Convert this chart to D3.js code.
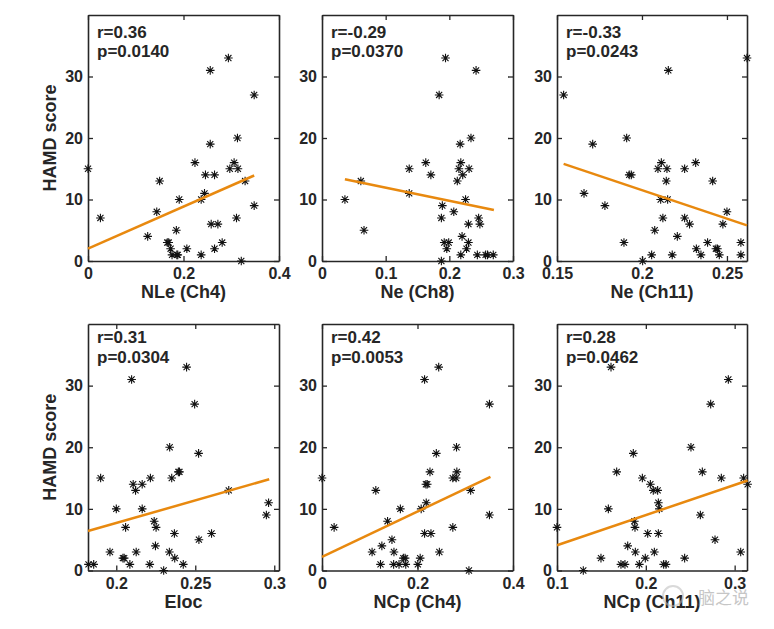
<!DOCTYPE html>
<html><head><meta charset="utf-8">
<script src="https://cdn.jsdelivr.net/npm/d3@7"></script>
<style>
html,body{margin:0;padding:0;background:#fff;}
svg{display:block;}
text{font-family:"Liberation Sans",Arial,sans-serif;font-weight:bold;fill:#262626;}
</style></head>
<body>
<svg id="chart" width="774" height="629"></svg>
<script>
// ---- data ----
const yTicks = [0, 10, 20, 30];
const yLabel = "HAMD score";
const xLabels = ["NLe (Ch4)", "Ne (Ch8)", "Ne (Ch11)", "Eloc", "NCp (Ch4)", "NCp (Ch11)"];
const rTexts = ["r=0.36", "r=-0.29", "r=-0.33", "r=0.31", "r=0.42", "r=0.28"];
const pTexts = ["p=0.0140", "p=0.0370", "p=0.0243", "p=0.0304", "p=0.0053", "p=0.0462"];
const xDomains = [[0, 0.4], [0, 0.3], [0.15, 0.2618], [0.1821, 0.303], [0, 0.4], [0.1, 0.3139]];
const xTickVals = [[0, 0.2, 0.4], [0, 0.1, 0.2, 0.3], [0.15, 0.2, 0.25], [0.2, 0.25, 0.3], [0, 0.2, 0.4], [0.1, 0.2, 0.3]];

const xNLeCh4 = [0.294,0.256,0.348,0.313,0.256,0.224,0.306,0.0,0.297,0.314,0.246,0.265,0.150,0.329,0.244,0.237,0.191,0.348,0.144,0.026,0.311,0.258,0.272,0.185,0.125,0.166,0.169,0.281,0.207,0.265,0.173,0.176,0.186,0.188,0.237,0.321];
const yNLeCh4 = [33,31,27,20,19,16,16,15,15,15,14,14,13,13,11,10,10,9,8,7,7,6,6,5,4,3,3,3,2,2,2,1,1,1,1,0];

const xNeCh8 = [0.194,0.242,0.184,0.234,0.217,0.163,0.218,0.137,0.215,0.231,0.171,0.221,0.061,0.2125,0.137,0.036,0.2255,0.189,0.207,0.1875,0.246,0.248,0.230,0.066,0.220,0.192,0.199,0.230,0.196,0.227,0.218,0.244,0.257,0.260,0.269,0.1875];
const yNeCh8 = [33,31,27,20,19,16,16,15,15,15,14,14,13,13,11,10,10,9,8,7,7,6,6,5,4,3,3,3,2,2,1,1,1,1,1,0];

const xNeCh11 = [0.2618,0.1539,0.2155,0.191,0.171,0.2114,0.2316,0.2094,0.2147,0.2251,0.1925,0.1937,0.2143,0.2416,0.1659,0.211,0.2151,0.1782,0.25,0.2123,0.2251,0.228,0.2476,0.2075,0.2208,0.1894,0.2386,0.2582,0.232,0.2435,0.2444,0.2057,0.2178,0.2347,0.2455,0.2582,0.2004];
const yNeCh11 = [33,27,31,20,19,16,16,15,15,15,14,14,13,13,11,10,10,9,8,7,7,6,6,5,4,3,3,3,2,2,2,1,1,1,1,1,0];

const xEloc = [0.2445,0.2097,0.2496,0.2338,0.2521,0.2393,0.2400,0.1901,0.2216,0.2351,0.2107,0.2164,0.2122,0.2712,0.2964,0.2,0.2164,0.295,0.224,0.2252,0.2059,0.2368,0.2603,0.2523,0.2248,0.196,0.2126,0.2336,0.2042,0.205,0.237,0.1824,0.1857,0.2086,0.2212,0.2424,0.23];
const yEloc = [33,31,27,20,19,16,16,15,15,15,14,14,13,13,11,10,10,9,8,7,7,6,6,5,4,3,3,3,2,2,2,1,1,1,1,1,0];

const xNCpCh4 = [0.2444,0.2148,0.3507,0.2817,0.2394,0.2261,0.2824,0,0.2739,0.281,0.2176,0.2204,0.1127,0.3113,0.2183,0.1641,0.2077,0.3507,0.1373,0.0254,0.274,0.2148,0.2282,0.1465,0.1254,0.1049,0.1507,0.2458,0.1704,0.174,0.2056,0.1225,0.15,0.1613,0.1754,0.2007,0.3077];
const yNCpCh4 = [33,31,27,20,19,16,16,15,15,15,14,14,13,13,11,10,10,9,8,7,7,6,6,5,4,3,3,3,2,2,2,1,1,1,1,1,0];

const xNCpCh11 = [0.1608,0.2929,0.273,0.2508,0.1859,0.1672,0.2636,0.1961,0.285,0.3101,0.2051,0.3146,0.2084,0.2133,0.2141,0.2152,0.1578,0.2614,0.1871,0.1878,0.1,0.2021,0.2141,0.2779,0.1796,0.1882,0.2096,0.3068,0.1495,0.1994,0.2437,0.172,0.1765,0.1927,0.2201,0.2227,0.1296];
const yNCpCh11 = [33,31,27,20,19,16,16,15,15,15,14,14,13,13,11,10,10,9,8,7,7,6,6,5,4,3,3,3,2,2,2,1,1,1,1,1,0];

// fitted line endpoints [x0,x1] / [y0,y1]
const fitX = [[0, 0.348], [0.036, 0.270], [0.1539, 0.2618], [0.1821, 0.2968], [0, 0.3528], [0.1, 0.3146]];
const fitY = [[2.0, 13.9], [13.3, 8.3], [15.8, 5.8], [6.4, 14.8], [2.2, 15.2], [4.1, 14.6]];

const seriesX = [xNLeCh4, xNeCh8, xNeCh11, xEloc, xNCpCh4, xNCpCh11];
const seriesY = [yNLeCh4, yNeCh8, yNeCh11, yEloc, yNCpCh4, yNCpCh11];

// ---- layout ----
const colL = [88, 322, 557];
const colR = [279, 513, 747];
const rowT = [15, 324];
const rowB = [261, 570.5];
const statOffset = [22.5, 19];
const ink = "#262626";
const fitColor = "#E8890F";

const svg = d3.select("#chart");

function fmt(v) { return d3.format("")(+v.toFixed(3)); }

function star(r) {
  const d = r * Math.SQRT1_2;
  return `M${-r},0L${r},0M0,${-r}L0,${r}M${-d},${-d}L${d},${d}M${-d},${d}L${d},${-d}`;
}

for (let i = 0; i < 6; i++) {
  const c = i % 3, rw = Math.floor(i / 3);
  const x = d3.scaleLinear().domain(xDomains[i]).range([colL[c], colR[c]]);
  const y = d3.scaleLinear().domain([0, 40]).range([rowB[rw], rowT[rw]]);
  const g = svg.append("g");

  const bottom = g.append("g").attr("transform", `translate(0,${rowB[rw]})`)
    .call(d3.axisBottom(x).tickValues(xTickVals[i]).tickSizeInner(-5).tickSizeOuter(0).tickPadding(4).tickFormat(fmt));
  const top = g.append("g").attr("transform", `translate(0,${rowT[rw]})`)
    .call(d3.axisTop(x).tickValues(xTickVals[i]).tickSizeInner(-5).tickSizeOuter(0).tickFormat(""));
  const left = g.append("g").attr("transform", `translate(${colL[c]},0)`)
    .call(d3.axisLeft(y).tickValues(yTicks).tickSizeInner(-5).tickSizeOuter(0).tickPadding(5));
  const right = g.append("g").attr("transform", `translate(${colR[c]},0)`)
    .call(d3.axisRight(y).tickValues(yTicks).tickSizeInner(-5).tickSizeOuter(0).tickFormat(""));
  [bottom, top, left, right].forEach(a => {
    a.select(".domain").attr("stroke", ink).attr("stroke-width", 1.6);
    a.selectAll(".tick line").attr("stroke", ink).attr("stroke-width", 1.3);
    a.selectAll(".tick text").attr("fill", ink).style("font-size", "16px").style("font-weight", "bold")
      .style("font-family", '"Liberation Sans",Arial,sans-serif');
  });
  bottom.selectAll(".tick text").attr("dy", null).attr("y", 18).attr("dominant-baseline", "alphabetic");

  const pts = seriesX[i].map((v, k) => [v, seriesY[i][k]]);
  g.append("g").selectAll("path").data(pts).join("path")
    .attr("transform", d => `translate(${x(d[0])},${y(d[1])})`)
    .attr("d", star(4.3))
    .attr("stroke", "#111").attr("stroke-width", 1.1).attr("fill", "none");

  const line = d3.line().x(d => x(d[0])).y(d => y(d[1]));
  g.append("path").datum(fitX[i].map((v, k) => [v, fitY[i][k]]))
    .attr("d", line).attr("stroke", fitColor).attr("stroke-width", 2.5).attr("fill", "none");

  g.append("text").attr("x", colL[c] + 9).attr("y", rowT[rw] + statOffset[rw])
    .style("font-size", "17px").text(rTexts[i]);
  g.append("text").attr("x", colL[c] + 9).attr("y", rowT[rw] + statOffset[rw] + 19.5)
    .style("font-size", "17px").text(pTexts[i]);

  g.append("text").attr("x", (colL[c] + colR[c]) / 2).attr("y", rowB[rw] + 37)
    .attr("text-anchor", "middle").style("font-size", "18px").text(xLabels[i]);

  if (c === 0) {
    g.append("text")
      .attr("transform", `translate(56,${(rowT[rw] + rowB[rw]) / 2}) rotate(-90)`)
      .attr("text-anchor", "middle").style("font-size", "18px").text(yLabel);
  }
}

// watermark
const wm = svg.append("g").attr("opacity", 0.55);
wm.append("circle").attr("cx", 673).attr("cy", 596).attr("r", 10)
  .attr("fill", "none").attr("stroke", "#bbb").attr("stroke-width", 2);
wm.append("text").attr("x", 698).attr("y", 604)
  .style("font-family", '"Noto Sans CJK SC",sans-serif').style("font-weight", "normal")
  .style("font-size", "17px").style("fill", "#999").text("脑之说");
</script>
</body></html>
